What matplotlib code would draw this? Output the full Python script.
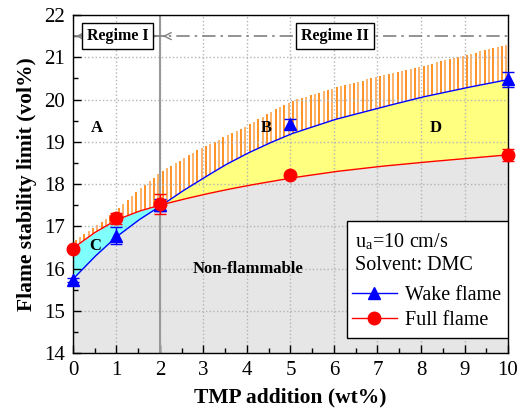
import numpy as np
import matplotlib
matplotlib.use("Agg")
import matplotlib.pyplot as plt
from matplotlib.lines import Line2D
from matplotlib.patches import Rectangle
from matplotlib.ticker import MultipleLocator

plt.rcParams["font.family"] = ["Liberation Serif", "DejaVu Serif"]
plt.rcParams["mathtext.fontset"] = "stix"

# -------------------- DATA --------------------
# measured points
tmp_pts = [0, 1, 2, 5, 10]
wake_pts = [15.72, 16.78, 17.50, 19.43, 20.48]
wake_err = [0.05, 0.20, 0.15, 0.12, 0.18]
full_pts = [16.46, 17.19, 17.53, 18.22, 18.69]
full_err = [0.05, 0.13, 0.23, 0.05, 0.15]

# fitted boundary curves
curve_x = [0, 0.5, 1, 1.5, 2, 2.5, 3, 3.5, 4, 4.5, 5, 6, 7, 8, 9, 10]
wake_curve = [15.75, 16.28, 16.75, 17.14, 17.47, 17.82, 18.14, 18.45, 18.72, 18.96, 19.18,
              19.52, 19.79, 20.05, 20.27, 20.47]
full_curve = [16.48, 16.85, 17.15, 17.35, 17.50, 17.63, 17.75, 17.86, 17.96, 18.05, 18.14,
              18.29, 18.41, 18.51, 18.60, 18.69]
hatch_top = [16.62, 16.98, 17.37, 17.85, 18.27, 18.58, 18.88, 19.12, 19.38, 19.68, 19.95,
             20.27, 20.54, 20.78, 21.05, 21.29]

x_ticks = list(range(0, 11))
y_ticks = list(range(14, 23))

# -------------------- FIGURE --------------------
fig = plt.figure(figsize=(5.30, 4.11), dpi=100)
ax = fig.add_axes([0.1377, 0.1411, 0.8208, 0.8224])

xf = np.linspace(0, 10, 401)
wake_f = np.interp(xf, curve_x, wake_curve)
full_f = np.interp(xf, curve_x, full_curve)
lower = np.minimum(wake_f, full_f)
upper = np.maximum(wake_f, full_f)

# regions
ax.fill_between(xf, 14, lower, color="#e6e6e6", lw=0, zorder=1)
ax.fill_between(xf, wake_f, full_f, where=xf <= 2, color="#80ffff", lw=0, zorder=1)
ax.fill_between(xf, full_f, wake_f, where=xf >= 2, color="#ffff80", lw=0, zorder=1)

# orange hatching above the upper boundary
xh = np.arange(0.06, 10.0, 0.1)
hb = np.interp(xh, xf, upper)
ht = np.interp(xh, curve_x, hatch_top)
cols = ["#ff8000" if i % 2 == 0 else "#ffa54f" for i in range(len(xh))]
ax.vlines(xh, hb, ht, colors=cols, lw=1.2, zorder=1.2)

# boundary curves
ax.plot(xf, wake_f, color="#0000ff", lw=1.0, zorder=3)
ax.plot(xf, full_f, color="#ff0000", lw=1.0, zorder=3)

# measured points
ax.errorbar(tmp_pts, wake_pts, yerr=wake_err, fmt="^", color="#0000ff", ms=9,
            capsize=4, elinewidth=1, capthick=1, zorder=4, clip_on=False)
ax.errorbar(tmp_pts, full_pts, yerr=full_err, fmt="o", color="#ff0000", ms=9,
            capsize=4, elinewidth=1, capthick=1, zorder=5, clip_on=False)

# regime separator
ax.axvline(2, color="#999999", lw=1.5, zorder=1.6)
ax.plot([0, 10], [21.5, 21.5], color="#808080", lw=1.2, ls=(0, (8, 3, 1.5, 3)), zorder=2)
arrow_kw = dict(arrowstyle="->,head_length=0.5,head_width=0.25", color="#808080", lw=1.0)
ax.annotate("", xy=(0, 21.5), xytext=(0.18, 21.5), arrowprops=arrow_kw, zorder=5)
ax.annotate("", xy=(2, 21.5), xytext=(1.84, 21.5), arrowprops=arrow_kw, zorder=5)
ax.annotate("", xy=(2, 21.5), xytext=(2.18, 21.5), arrowprops=arrow_kw, zorder=5)

box = dict(boxstyle="square,pad=0.3", fc="white", ec="black", lw=1.0)
ax.text(1.02, 21.5, "Regime I", ha="center", va="center", fontsize=11.5,
        fontweight="bold", bbox=box, zorder=6)
ax.text(6.02, 21.5, "Regime II", ha="center", va="center", fontsize=11.5,
        fontweight="bold", bbox=box, zorder=6)

# region labels
for lbl, lx, ly in [("A", 0.54, 19.33), ("B", 4.45, 19.33), ("D", 8.33, 19.33), ("C", 0.52, 16.54)]:
    ax.text(lx, ly, lbl, ha="center", va="center", fontsize=12, fontweight="bold", zorder=6)
ax.text(4.02, 16.0, "Non-flammable", ha="center", va="center", fontsize=12,
        fontweight="bold", zorder=6)

# axes
ax.set_xlim(0, 10)
ax.set_ylim(14, 22)
ax.set_xticks(x_ticks)
ax.set_yticks(y_ticks)
ax.xaxis.set_minor_locator(MultipleLocator(0.5))
ax.yaxis.set_minor_locator(MultipleLocator(0.5))
ax.tick_params(which="both", direction="in", labelsize=15, width=1)
ax.tick_params(which="major", length=6, pad=6)
ax.tick_params(which="minor", length=3.5)
ax.grid(True, which="major", ls=":", color="#b3b3b3", lw=1.0)
ax.set_axisbelow("line")
for s in ax.spines.values():
    s.set_linewidth(1.0)

ax.set_xlabel("TMP addition (wt%)", fontsize=15.5, fontweight="bold", labelpad=5)
ax.set_ylabel("Flame stability limit (vol%)", fontsize=15.5, fontweight="bold", labelpad=5)

# legend box with the condition notes
ax.add_patch(Rectangle((0.631, 0.044), 0.369, 0.346, transform=ax.transAxes,
                       fc="white", ec="black", lw=1.0, zorder=7))
ax.text(0.648, 0.329, r"u$_\mathregular{a}$=10 cm/s", transform=ax.transAxes,
        ha="left", va="center", fontsize=14.5, zorder=8)
ax.text(0.648, 0.259, "Solvent: DMC", transform=ax.transAxes,
        ha="left", va="center", fontsize=14.5, zorder=8)
handles = [
    Line2D([], [], color="#0000ff", lw=1, marker="^", ms=9, label="Wake flame"),
    Line2D([], [], color="#ff0000", lw=1, marker="o", ms=9, label="Full flame"),
]
leg = ax.legend(handles=handles, loc="lower left", bbox_to_anchor=(0.642, 0.067),
                fontsize=14.5, frameon=False, handlelength=2.2, handletextpad=0.4,
                labelspacing=0.3, borderpad=0.0, borderaxespad=0)
leg.set_zorder(8)

fig.savefig("out.png", dpi=100)
